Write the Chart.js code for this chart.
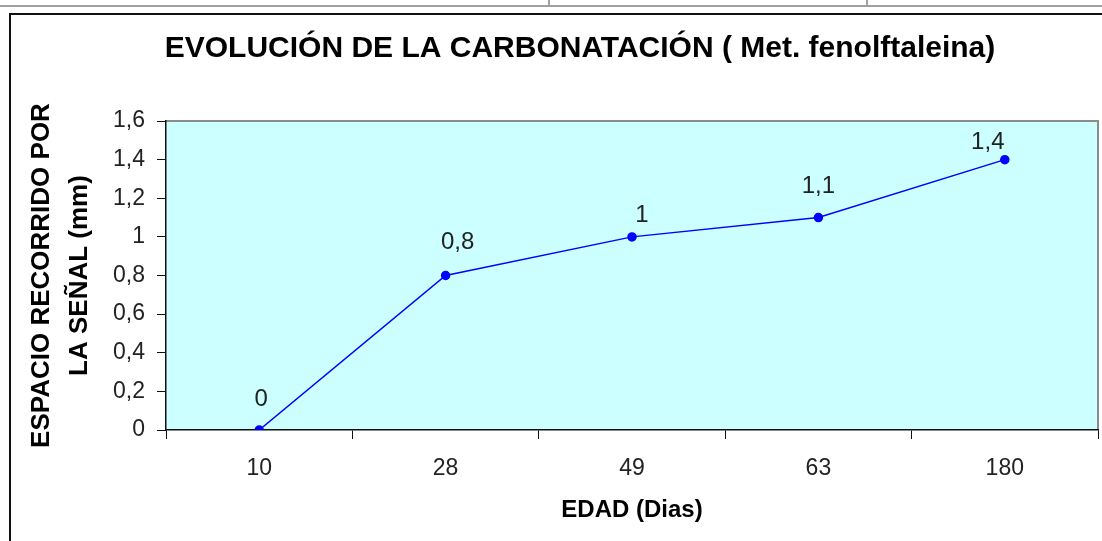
<!DOCTYPE html>
<html>
<head>
<meta charset="utf-8">
<script src="https://cdn.jsdelivr.net/npm/chart.js@4"></script>
<style>
  body { margin: 0; background: #fff; overflow: hidden; }
  .topline { position: absolute; left: 0; top: 5px; width: 1102px; height: 2px; background: #a0a0a0; }
  .vline { position: absolute; top: 0; width: 2px; height: 6px; background: #a0a0a0; }
  .frame { position: absolute; left: 9px; top: 13px; width: 1200px; height: 600px;
           border-left: 2px solid #111; border-top: 2px solid #111; }
  #chart { position: absolute; left: 0; top: 0; }
</style>
</head>
<body>
<div class="topline"></div>
<div class="vline" style="left:548px"></div>
<div class="vline" style="left:866px"></div>
<div class="frame"></div>
<!-- canvas runs past the window on the right so the title centre lands where it does in the original -->
<canvas id="chart" width="1160" height="541"></canvas>
<script>
const edades = ['10', '28', '49', '63', '180'];
const carbonatacion = [0, 0.8, 1, 1.1, 1.4];
const valueLabels = ['0', '0,8', '1', '1,1', '1,4'];

// label nudges (px) to mimic where the labels sit in the original
const labelDx = [2, 12, 10, 0, -17];
const labelDy = [-31, -33, -22, -31, -17];

const plotBackground = {
  id: 'plotBackground',
  beforeDraw(chart) {
    const {ctx, chartArea: a} = chart;
    ctx.save();
    ctx.fillStyle = '#ccffff';
    ctx.fillRect(a.left, a.top, a.right - a.left, a.bottom - a.top);
    ctx.strokeStyle = '#8c8c8c';
    ctx.lineWidth = 2;
    ctx.beginPath();
    ctx.moveTo(a.left, a.top);
    ctx.lineTo(a.right, a.top);
    ctx.lineTo(a.right, a.bottom);
    ctx.stroke();
    ctx.restore();
  }
};

const pointLabels = {
  id: 'pointLabels',
  afterDatasetsDraw(chart) {
    const {ctx} = chart;
    const meta = chart.getDatasetMeta(0);
    ctx.save();
    ctx.font = '24px "Liberation Sans", Arial, sans-serif';
    ctx.fillStyle = '#222';
    ctx.textAlign = 'center';
    ctx.textBaseline = 'middle';
    meta.data.forEach((pt, i) => {
      ctx.fillText(valueLabels[i], pt.x + labelDx[i], pt.y + labelDy[i]);
    });
    ctx.restore();
  }
};

new Chart(document.getElementById('chart'), {
  type: 'line',
  data: {
    labels: edades,
    datasets: [{
      data: carbonatacion,
      borderColor: '#0000ff',
      borderWidth: 1.5,
      backgroundColor: '#0000ff',
      pointBackgroundColor: '#0000ff',
      pointBorderColor: '#0000ff',
      pointRadius: 4,
      tension: 0
    }]
  },
  options: {
    responsive: false,
    animation: false,
    layout: {padding: {left: 62, right: 62, top: 0, bottom: 0}},
    plugins: {
      legend: {display: false},
      tooltip: {enabled: false},
      title: {
        display: true,
        text: 'EVOLUCIÓN DE LA CARBONATACIÓN ( Met. fenolftaleina)',
        color: '#000',
        font: {family: '"Liberation Sans", Arial, sans-serif', size: 30, weight: 'bold', lineHeight: 1.2},
        padding: {top: 31, bottom: 54}
      }
    },
    scales: {
      x: {
        offset: true,
        grid: {offset: true, drawOnChartArea: false, drawTicks: true, tickLength: 9, color: '#111'},
        border: {color: '#111', width: 1.5},
        ticks: {
          color: '#222',
          padding: 16,
          font: {family: '"Liberation Sans", Arial, sans-serif', size: 23}
        },
        title: {
          display: true,
          text: 'EDAD (Dias)',
          color: '#000',
          font: {family: '"Liberation Sans", Arial, sans-serif', size: 24, weight: 'bold', lineHeight: 1.2},
          padding: {top: 0, bottom: 16}
        },
        afterFit(scale) { scale.height = 111; }
      },
      y: {
        min: 0,
        max: 1.6,
        ticks: {
          stepSize: 0.2,
          color: '#222',
          padding: 12,
          font: {family: '"Liberation Sans", Arial, sans-serif', size: 23},
          callback: v => String(Math.round(v * 10) / 10).replace('.', ',')
        },
        grid: {drawOnChartArea: false, drawTicks: true, tickLength: 9, color: '#111'},
        border: {color: '#111', width: 1.5},
        title: {
          display: true,
          text: ['ESPACIO RECORRIDO POR', 'LA SEÑAL (mm)'],
          color: '#000',
          font: {family: '"Liberation Sans", Arial, sans-serif', size: 26, weight: 'bold', lineHeight: 1.46},
          padding: {top: -39, bottom: 0}
        },
        afterFit(scale) { scale.width = 104; }
      }
    }
  },
  plugins: [plotBackground, pointLabels]
});
</script>
</body>
</html>
